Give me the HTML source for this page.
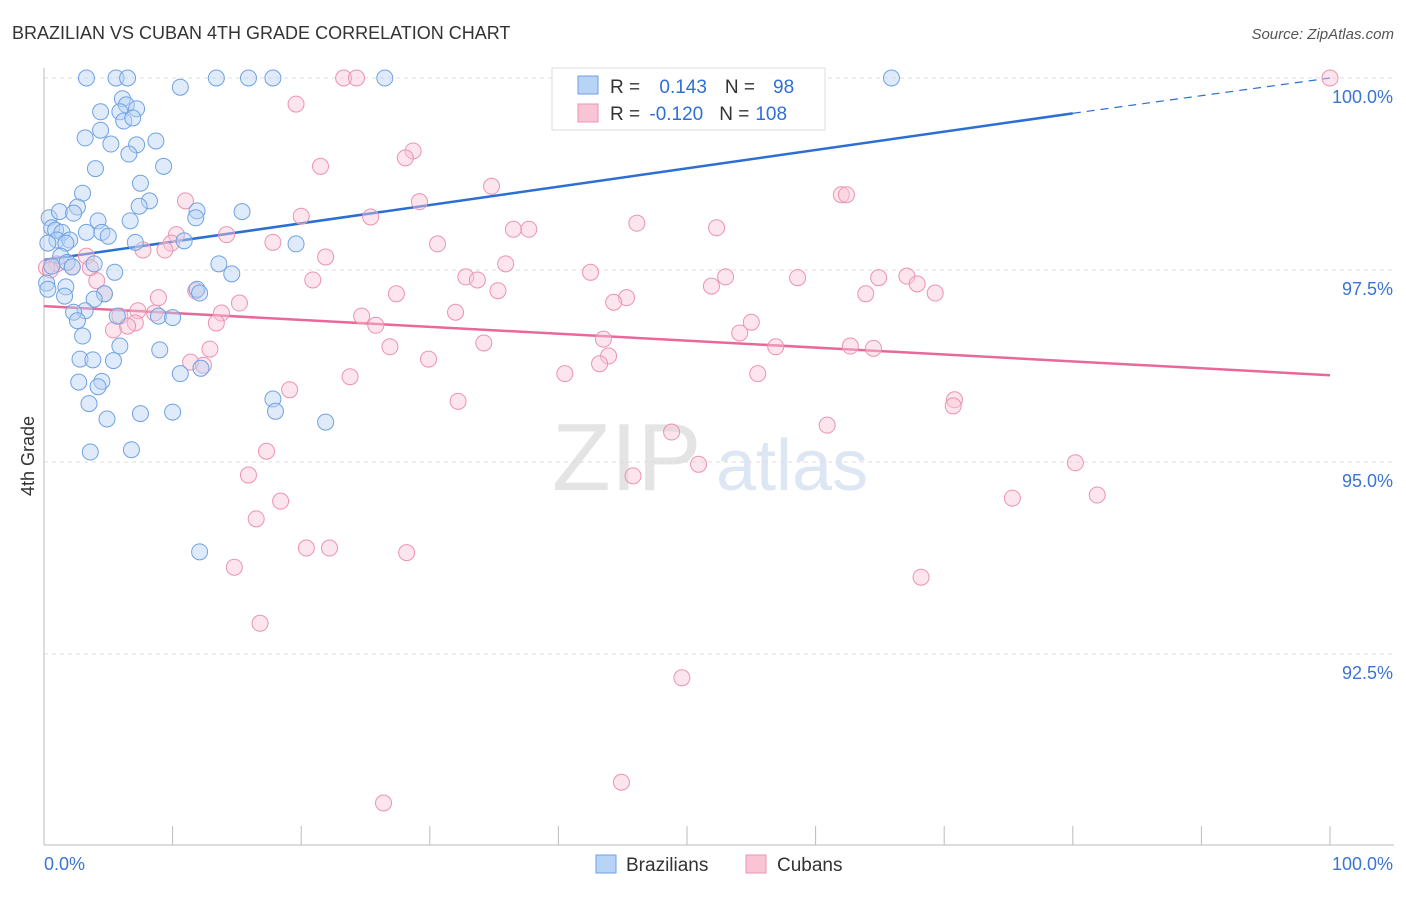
<!DOCTYPE html>
<html><head><meta charset="utf-8">
<style>
body{margin:0;background:#fff;font-family:"Liberation Sans",sans-serif;}
svg text{font-family:"Liberation Sans",sans-serif;}
</style></head>
<body>
<svg id="chart" width="1406" height="892" xmlns="http://www.w3.org/2000/svg">
<text x="12" y="39" font-size="18" fill="#333">BRAZILIAN VS CUBAN 4TH GRADE CORRELATION CHART</text>
<text x="1394" y="39" font-size="15" fill="#555" text-anchor="end" font-style="italic">Source: ZipAtlas.com</text>
<text x="34" y="456" font-size="18" fill="#333" text-anchor="middle" transform="rotate(-90 34 456)">4th Grade</text>
<g><text x="552" y="490" font-size="96" fill="#e4e4e4" font-family="Liberation Serif, serif">ZIP</text><text x="716" y="490" font-size="72" fill="#dce7f3">atlas</text></g>
<g id="grid"></g><g id="axes"></g><g id="trends"></g><g id="pts"></g>
<g>
<rect x="552" y="68" width="273" height="62" fill="#fff" stroke="#ddd"/>
<rect x="578" y="76" width="20" height="18" fill="#b7d3f5" stroke="#6fa2e3"/>
<rect x="578" y="104" width="20" height="18" fill="#f9c5d5" stroke="#ec93b1"/>
<text x="610" y="93" font-size="19" fill="#333">R = <tspan fill="#2f6fd6" dx="14">0.143</tspan><tspan fill="#333" dx="18">N =</tspan><tspan fill="#2f6fd6" dx="18">98</tspan></text>
<text x="610" y="120" font-size="19" fill="#333">R = <tspan fill="#2f6fd6" dx="4">-0.120</tspan><tspan fill="#333" dx="16">N =</tspan><tspan fill="#2f6fd6" dx="6">108</tspan></text>
</g>
<g>
<rect x="596" y="855" width="20" height="18" fill="#b7d3f5" stroke="#6fa2e3"/>
<text x="626" y="871" font-size="19" fill="#333">Brazilians</text>
<rect x="746" y="855" width="20" height="18" fill="#f9c5d5" stroke="#ec93b1"/>
<text x="777" y="871" font-size="19" fill="#333">Cubans</text>
</g>
</svg>
<script>
const yTicks=[100,97.5,95,92.5];
const yTickLabels=["100.0%","97.5%","95.0%","92.5%"];
const xTicks=[0,10,20,30,40,50,60,70,80,90,100];
const xEndLabels=["0.0%","100.0%"];
const blueX=[3.3,5.6,6.5,10.6,13.4,15.9,17.8,26.5,65.9,6.1,6.4,4.4,7.2,5.9,6.2,6.9,4.4,3.2,5.2,8.7,7.2,6.6,9.3,4.0,7.5,3.0,8.2,7.4,2.6,0.4,1.2,2.3,4.2,6.7,11.9,15.4,11.8,0.6,0.9,1.4,3.3,4.5,5.0,1.0,2.0,1.7,0.3,7.1,10.9,19.6,1.3,3.9,1.8,0.6,2.2,5.5,13.6,14.6,0.2,0.3,1.7,1.6,4.7,3.9,11.9,12.1,3.2,2.3,2.6,5.7,8.9,10.0,3.0,5.9,9.0,2.8,3.8,5.4,10.6,12.2,2.7,4.5,4.2,17.8,18.0,3.5,4.9,7.5,10.0,21.9,3.6,6.8,12.1];
const blueY=[100,100,100,99.88,100,100,100,100,100,99.73,99.65,99.56,99.60,99.56,99.44,99.48,99.32,99.22,99.14,99.18,99.13,99.01,98.85,98.82,98.63,98.50,98.40,98.33,98.32,98.18,98.26,98.24,98.14,98.14,98.27,98.26,98.18,98.05,98.02,97.99,97.99,97.99,97.94,97.89,97.89,97.85,97.85,97.86,97.88,97.84,97.68,97.58,97.60,97.55,97.54,97.47,97.58,97.45,97.33,97.25,97.28,97.16,97.19,97.12,97.25,97.20,96.97,96.95,96.84,96.90,96.90,96.88,96.64,96.51,96.46,96.34,96.33,96.32,96.15,96.22,96.04,96.05,95.98,95.82,95.66,95.76,95.56,95.63,95.65,95.52,95.13,95.16,93.83];
const pinkX=[23.3,24.3,100,19.6,28.7,28.1,21.5,34.8,62.0,62.4,11.0,29.2,20.0,25.4,46.1,36.5,37.7,52.3,10.3,14.2,9.9,17.8,30.6,9.4,7.7,3.3,21.9,35.9,1.0,2.2,3.6,0.2,0.5,42.5,32.8,33.7,20.9,53.0,58.6,67.1,64.9,67.9,51.9,35.3,4.1,4.7,11.8,27.4,45.3,44.3,69.3,63.9,8.9,15.2,32.0,13.8,7.3,8.6,24.7,25.8,5.9,7.1,13.4,55.0,54.1,5.4,6.5,43.5,56.9,62.7,64.5,26.9,34.2,12.9,43.9,43.2,29.9,11.4,12.4,23.8,40.5,55.5,19.1,32.2,70.8,70.7,60.9,48.8,50.9,45.8,80.2,15.9,17.3,75.3,81.9,18.4,16.5,20.4,22.2,28.2,14.8,68.2,16.8,49.6,44.9,26.4];
const pinkY=[100,100,100,99.66,99.05,98.96,98.85,98.59,98.48,98.48,98.40,98.39,98.20,98.19,98.11,98.03,98.03,98.05,97.96,97.96,97.85,97.86,97.84,97.76,97.76,97.68,97.67,97.58,97.58,97.54,97.53,97.53,97.50,97.47,97.41,97.37,97.37,97.41,97.40,97.42,97.40,97.32,97.29,97.23,97.36,97.19,97.23,97.19,97.14,97.08,97.20,97.19,97.14,97.07,96.95,96.94,96.97,96.94,96.90,96.78,96.90,96.81,96.81,96.82,96.68,96.72,96.77,96.60,96.50,96.51,96.48,96.50,96.55,96.47,96.38,96.28,96.34,96.30,96.26,96.11,96.15,96.15,95.94,95.79,95.81,95.73,95.48,95.39,94.97,94.82,94.99,94.83,95.14,94.53,94.57,94.49,94.26,93.88,93.88,93.82,93.63,93.50,92.90,92.19,90.83,90.56];
const blueTrendX=[0,80,100];
const blueTrendY=[97.63,99.54,100.0];
const pinkTrendX=[0,100];
const pinkTrendY=[97.03,96.13];

const NS="http://www.w3.org/2000/svg";
const X0=44,X1=1330,Y100=78,PXPER=76.8;
function sx(v){return X0+(X1-X0)*v/100;}
function sy(v){return Y100+(100-v)*PXPER;}
function mk(tag,attrs,parent){const e=document.createElementNS(NS,tag);for(const k in attrs)e.setAttribute(k,attrs[k]);parent.appendChild(e);return e;}
const grid=document.getElementById('grid'),axes=document.getElementById('axes'),tr=document.getElementById('trends'),pts=document.getElementById('pts');
yTicks.forEach((t,i)=>{
  const l=mk('line',{x1:X0,x2:1394,y1:sy(t),y2:sy(t),stroke:'#ddd','stroke-dasharray':'4 4'},grid);
  
  
  const tx=mk('text',{x:1393,y:sy(t)+25,'font-size':18,fill:'#3b74d4','text-anchor':'end'},axes);
  tx.textContent=yTickLabels[i];
  
  
});
const ax=mk('line',{x1:X0,x2:1394,y1:845,y2:845,stroke:'#bbb'},axes);


const ay=mk('line',{x1:X0,x2:X0,y1:68,y2:845,stroke:'#bbb'},axes);


xTicks.forEach(t=>{
  const l=mk('line',{x1:sx(t),x2:sx(t),y1:826,y2:845,stroke:'#bbb'},axes);
  
  
});
const xl0=mk('text',{x:44,y:870,'font-size':18,fill:'#3b74d4'},axes);xl0.textContent=xEndLabels[0];


const xl1=mk('text',{x:1393,y:870,'font-size':18,fill:'#3b74d4','text-anchor':'end'},axes);xl1.textContent=xEndLabels[1];


function dots(xs,ys,fill,stroke,name){
  xs.forEach((x,i)=>{
    const c=mk('circle',{cx:sx(x),cy:sy(ys[i]),r:8,fill:fill,'fill-opacity':0.45,stroke:stroke,'stroke-width':1},pts);
    
    
  });
}
dots(pinkX,pinkY,'#f9c5d5','#ec93b1','cuban-point');
dots(blueX,blueY,'#b7d3f5','#6fa2e3','brazilian-point');
const bt=mk('line',{x1:sx(blueTrendX[0]),y1:sy(blueTrendY[0]),x2:sx(blueTrendX[1]),y2:sy(blueTrendY[1]),stroke:'#2a6fd6','stroke-width':2.5},tr);


const bd=mk('line',{x1:sx(blueTrendX[1]),y1:sy(blueTrendY[1]),x2:sx(blueTrendX[2]),y2:sy(blueTrendY[2]),stroke:'#2a6fd6','stroke-width':1.2,'stroke-dasharray':'8 6'},tr);


const pt=mk('line',{x1:sx(pinkTrendX[0]),y1:sy(pinkTrendY[0]),x2:sx(pinkTrendX[1]),y2:sy(pinkTrendY[1]),stroke:'#e8689a','stroke-width':2.5},tr);


</script>
</body></html>
